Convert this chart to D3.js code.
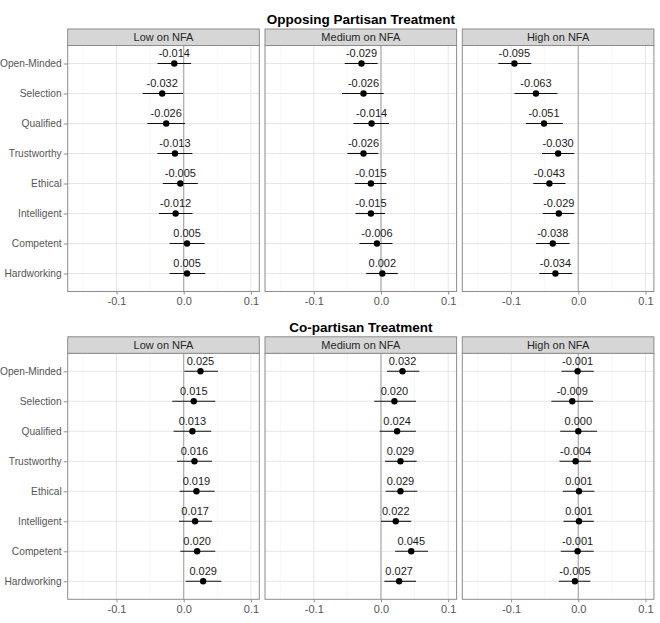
<!DOCTYPE html>
<html>
<head>
<meta charset="utf-8">
<script src="https://cdn.jsdelivr.net/npm/d3@7"></script>
<style>
  body { margin: 0; background: #fff; }
  svg { font-family: "Liberation Sans", Arial, sans-serif; }
</style>
</head>
<body>
<div id="chart"></div>
<script>
// Data
let traits = ["Open-Minded", "Selection", "Qualified", "Trustworthy", "Ethical", "Intelligent", "Competent", "Hardworking"];
let groups = ["Low on NFA", "Medium on NFA", "High on NFA"];
let treatments = ["Opposing Partisan Treatment", "Co-partisan Treatment"];
let xTicks = [-0.1, 0.0, 0.1];

// Opposing partisan: estimate, lower, upper for each NFA group
let oppLowEst = [-0.014, -0.032, -0.026, -0.013, -0.005, -0.012, 0.005, 0.005];
let oppLowLo  = [-0.039, -0.061, -0.054, -0.039, -0.031, -0.037, -0.021, -0.021];
let oppLowHi  = [0.011, -0.001, 0.002, 0.013, 0.021, 0.013, 0.031, 0.032];

let oppMedEst = [-0.029, -0.026, -0.014, -0.026, -0.015, -0.015, -0.006, 0.002];
let oppMedLo  = [-0.054, -0.058, -0.041, -0.050, -0.039, -0.038, -0.032, -0.022];
let oppMedHi  = [-0.005, 0.004, 0.012, -0.004, 0.008, 0.006, 0.017, 0.025];

let oppHighEst = [-0.095, -0.063, -0.051, -0.030, -0.043, -0.029, -0.038, -0.034];
let oppHighLo  = [-0.119, -0.095, -0.078, -0.054, -0.067, -0.053, -0.063, -0.058];
let oppHighHi  = [-0.070, -0.031, -0.023, -0.006, -0.019, -0.006, -0.013, -0.009];

// Co-partisan
let coLowEst = [0.025, 0.015, 0.013, 0.016, 0.019, 0.017, 0.020, 0.029];
let coLowLo  = [0.001, -0.017, -0.015, -0.010, -0.006, -0.007, -0.005, 0.003];
let coLowHi  = [0.051, 0.047, 0.041, 0.042, 0.046, 0.042, 0.047, 0.056];

let coMedEst = [0.032, 0.020, 0.024, 0.029, 0.029, 0.022, 0.045, 0.027];
let coMedLo  = [0.009, -0.010, -0.002, 0.006, 0.007, 0.000, 0.021, 0.005];
let coMedHi  = [0.057, 0.052, 0.052, 0.053, 0.054, 0.045, 0.070, 0.052];

let coHighEst = [-0.001, -0.009, 0.000, -0.004, 0.001, 0.001, -0.001, -0.005];
let coHighLo  = [-0.025, -0.040, -0.027, -0.028, -0.023, -0.022, -0.026, -0.029];
let coHighHi  = [0.023, 0.022, 0.028, 0.019, 0.024, 0.023, 0.023, 0.018];

let panelData = [
  [[oppLowEst, oppLowLo, oppLowHi], [oppMedEst, oppMedLo, oppMedHi], [oppHighEst, oppHighLo, oppHighHi]],
  [[coLowEst, coLowLo, coLowHi], [coMedEst, coMedLo, coMedHi], [coHighEst, coHighLo, coHighHi]]
];

// Layout
let svgWidth = 660;
let svgHeight = 623;

let panelLeft = 67.7;
let panelWidth = 191.6;
let panelGap = 5.7;
let stripHeight = 16.5;
let rowTops = [29, 336.8];      // top of strip
let plotHeight = 246;

let svg = d3.select("#chart")
  .append("svg")
  .attr("width", svgWidth)
  .attr("height", svgHeight);

// x scale shared by all panels (local coords)
let xScale = d3.scaleLinear()
  .domain([-0.1726, 0.1125])
  .range([0, panelWidth]);

let yScale = d3.scalePoint()
  .domain(traits)
  .range([0, plotHeight])
  .padding(0.6);

treatments.forEach(function(title, r) {
  let top = rowTops[r];
  let plotTop = top + stripHeight;

  // row title
  svg.append("text")
    .attr("x", panelLeft + (3 * panelWidth + 2 * panelGap) / 2)
    .attr("y", top - 10)
    .attr("dy", "0.35em")
    .attr("text-anchor", "middle")
    .attr("font-size", "13.5px")
    .attr("font-weight", "bold")
    .attr("fill", "#000")
    .text(title);

  groups.forEach(function(g, c) {
    let left = panelLeft + c * (panelWidth + panelGap);
    let est = panelData[r][c][0];
    let lo = panelData[r][c][1];
    let hi = panelData[r][c][2];

    let panel = svg.append("g")
      .attr("transform", `translate(${left}, ${plotTop})`);

    // minor grid
    panel.selectAll(".minor")
      .data([-0.15, -0.05, 0.05])
      .enter()
      .append("line")
      .attr("x1", d => xScale(d))
      .attr("x2", d => xScale(d))
      .attr("y1", 0)
      .attr("y2", plotHeight)
      .attr("stroke", "#f2f2f2")
      .attr("stroke-width", 0.6);

    // major grid
    panel.selectAll(".vmajor")
      .data(xTicks)
      .enter()
      .append("line")
      .attr("x1", d => xScale(d))
      .attr("x2", d => xScale(d))
      .attr("y1", 0)
      .attr("y2", plotHeight)
      .attr("stroke", "#e6e6e6")
      .attr("stroke-width", 1);

    panel.selectAll(".hmajor")
      .data(traits)
      .enter()
      .append("line")
      .attr("x1", 0)
      .attr("x2", panelWidth)
      .attr("y1", d => yScale(d))
      .attr("y2", d => yScale(d))
      .attr("stroke", "#e6e6e6")
      .attr("stroke-width", 1);

    // zero line
    panel.append("line")
      .attr("x1", xScale(0))
      .attr("x2", xScale(0))
      .attr("y1", 0)
      .attr("y2", plotHeight)
      .attr("stroke", "#a6a6a6")
      .attr("stroke-width", 1.1);

    // CI lines
    panel.selectAll(".ci")
      .data(traits)
      .enter()
      .append("line")
      .attr("x1", (d, i) => xScale(lo[i]))
      .attr("x2", (d, i) => xScale(hi[i]))
      .attr("y1", d => yScale(d))
      .attr("y2", d => yScale(d))
      .attr("stroke", "#111")
      .attr("stroke-width", 1.1);

    // points
    panel.selectAll(".pt")
      .data(traits)
      .enter()
      .append("circle")
      .attr("cx", (d, i) => xScale(est[i]))
      .attr("cy", d => yScale(d))
      .attr("r", 3.2)
      .attr("fill", "#000");

    // value labels
    panel.selectAll(".lab")
      .data(traits)
      .enter()
      .append("text")
      .attr("x", (d, i) => xScale(est[i]))
      .attr("y", d => yScale(d) - 10)
      .attr("dy", "0.35em")
      .attr("text-anchor", "middle")
      .attr("font-size", "11px")
      .attr("fill", "#1a1a1a")
      .text((d, i) => est[i].toFixed(3));

    // panel border
    panel.append("rect")
      .attr("x", 0)
      .attr("y", 0)
      .attr("width", panelWidth)
      .attr("height", plotHeight)
      .attr("fill", "none")
      .attr("stroke", "#8c8c8c")
      .attr("stroke-width", 1);

    // strip
    let strip = svg.append("g")
      .attr("transform", `translate(${left}, ${top})`);
    strip.append("rect")
      .attr("width", panelWidth)
      .attr("height", stripHeight)
      .attr("fill", "#d6d6d6")
      .attr("stroke", "#8c8c8c")
      .attr("stroke-width", 1);
    strip.append("text")
      .attr("x", panelWidth / 2)
      .attr("y", stripHeight / 2)
      .attr("dy", "0.35em")
      .attr("text-anchor", "middle")
      .attr("font-size", "11px")
      .attr("fill", "#262626")
      .text(g);

    // x axis
    let bottomAxis = d3.axisBottom(xScale)
      .tickValues(xTicks)
      .tickSize(3)
      .tickPadding(3)
      .tickFormat(d => d.toFixed(1));
    let xAxis = panel.append("g")
      .attr("transform", `translate(0, ${plotHeight})`)
      .call(bottomAxis);
    xAxis.select(".domain").remove();
    xAxis.selectAll("line").attr("stroke", "#8c8c8c");
    xAxis.selectAll("text")
      .attr("font-size", "11px")
      .attr("font-family", "Liberation Sans, Arial, sans-serif")
      .attr("fill", "#555");

    // y axis only on first panel
    if (c === 0) {
      let leftAxis = d3.axisLeft(yScale)
        .tickSize(4)
        .tickPadding(2);
      let yAxis = panel.append("g").call(leftAxis);
      yAxis.select(".domain").remove();
      yAxis.selectAll("line").attr("stroke", "#8c8c8c");
      yAxis.selectAll("text")
        .attr("font-size", "10.2px")
        .attr("font-family", "Liberation Sans, Arial, sans-serif")
        .attr("fill", "#555");
    }
  });
});
</script>
</body>
</html>
